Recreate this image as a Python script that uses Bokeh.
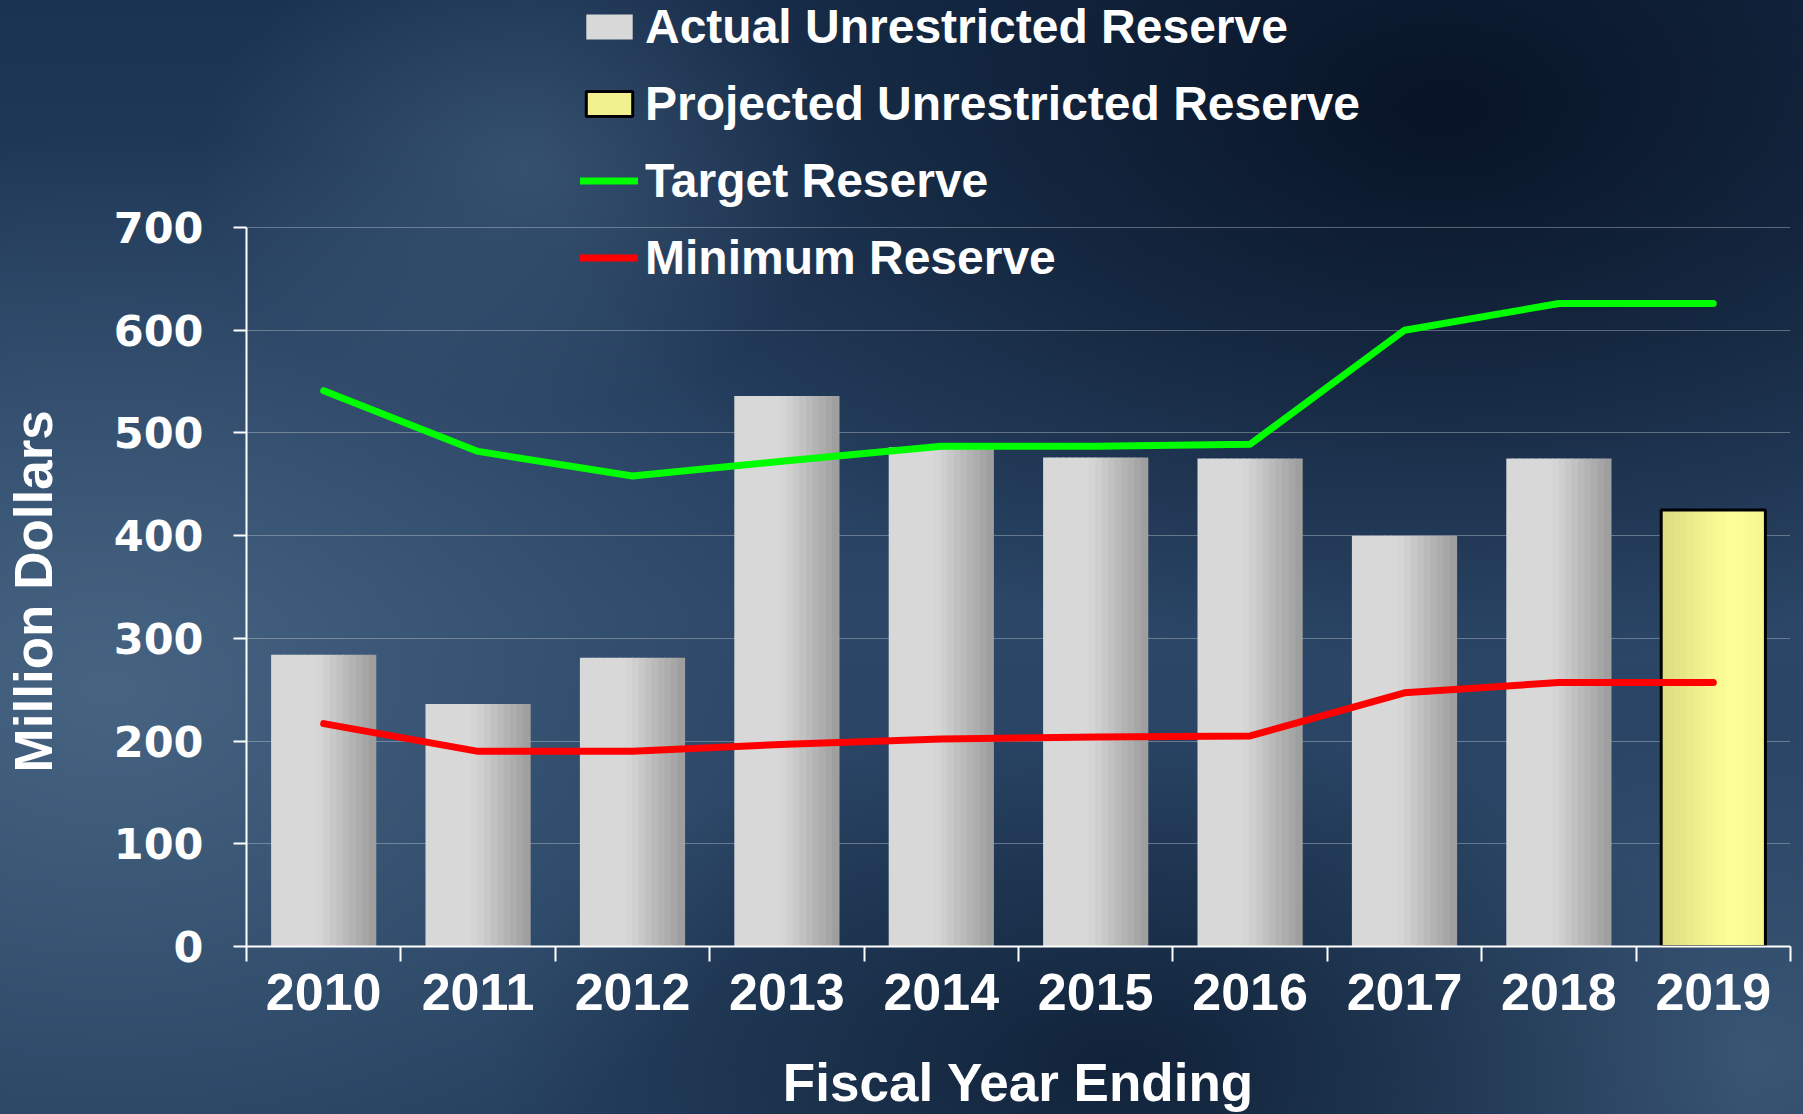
from bokeh.plotting import figure
from bokeh.models import Range1d, FixedTicker, Legend, LegendItem, GlobalInlineStyleSheet
from bokeh.embed import file_html
from bokeh.resources import INLINE

# ---- data ----
years = ["2010", "2011", "2012", "2013", "2014", "2015", "2016", "2017", "2018", "2019"]
actual_years = ["2010", "2011", "2012", "2013", "2014", "2015", "2016", "2017", "2018"]
actual = [284, 236, 281, 536, 486, 476, 475, 400, 475]
projected_years = ["2019"]
projected = [425]
target = [541, 482, 458, 473, 487, 487, 489, 600, 626, 626]
minimum = [217, 190, 190, 197, 202, 204, 205, 247, 257, 257]
y_ticks = [0, 100, 200, 300, 400, 500, 600, 700]
Y_MAX = 700

pos = {y: i + 0.5 for i, y in enumerate(years)}
x_all = [pos[y] for y in years]
x_act = [pos[y] for y in actual_years]
x_proj = [pos[y] for y in projected_years]

# ---- layout constants (pixels) ----
W, H = 1803, 1114
FRAME_LEFT, FRAME_RIGHT = 245, 1790
AXIS_TOP, FRAME_BOTTOM = 227, 946
# frame reaches the top edge so the legend is not clipped; the axis is bounded to 0..700
y_top = Y_MAX * FRAME_BOTTOM / (FRAME_BOTTOM - AXIS_TOP)

BAR_W = 0.675
N = 16
SW = BAR_W / N

p = figure(width=W, height=H, x_range=Range1d(0, len(years)), y_range=Range1d(0, y_top),
           output_backend="svg", toolbar_location=None,
           min_border_left=FRAME_LEFT, min_border_right=W - FRAME_RIGHT,
           min_border_top=0, min_border_bottom=H - FRAME_BOTTOM)
p.border_fill_color = None
p.background_fill_color = None
p.outline_line_color = None
p.stylesheets = [GlobalInlineStyleSheet(css="""
html, body { background-color: #1f3858;
 background-image:
  radial-gradient(ellipse 18% 22% at 29% 15%, rgba(95,125,155,0.35), rgba(95,125,155,0) 100%),
  radial-gradient(ellipse 40% 50% at 6% 62%, rgba(85,115,145,0.65), rgba(85,115,145,0) 100%),
  radial-gradient(ellipse 50% 50% at 80% 10%, rgba(4,14,30,0.85), rgba(4,14,30,0) 100%),
  radial-gradient(ellipse 35% 30% at 62% 95%, rgba(8,22,42,0.7), rgba(8,22,42,0) 100%),
  radial-gradient(ellipse 30% 30% at 97% 95%, rgba(80,110,140,0.45), rgba(80,110,140,0) 100%),
  linear-gradient(180deg, #1b3352 0%, #2b4667 55%, #25405f 100%);
}
""")]

def grey(t):
    if t < 0.45:
        v = 216
    else:
        v = int(216 - (t - 0.45) / 0.55 * 60)
    return "#%02x%02x%02x" % (v, v, v)

def yellow(t):
    if t < 0.65:
        f = t / 0.65
        r = int(0xdc + f * (0xff - 0xdc)); g = r; b = int(0x80 + f * (0x99 - 0x80))
    else:
        f = (t - 0.65) / 0.35
        r = int(0xff - f * 8); g = r; b = int(0x99 - f * 8)
    return "#%02x%02x%02x" % (r, g, b)

legend_actual = None
legend_proj = None
for k in range(N):
    t = (k + 0.5) / N
    off = -BAR_W / 2 + (k + 0.5) * SW
    ra = p.vbar(x=[x + off for x in x_act], top=actual, bottom=0, width=SW * 1.15,
                fill_color=grey(t), line_color=None)
    ry = p.vbar(x=[x + off for x in x_proj], top=projected, bottom=0, width=SW * 1.15,
                fill_color=yellow(t), line_color=None)
    if k == 6:
        legend_actual = ra
        legend_proj = ry

proj_outline = p.vbar(x=x_proj, top=projected, bottom=0, width=BAR_W, fill_alpha=0,
                      line_color="black", line_width=3)

lt = p.line(x_all, target, line_color="#00ff00", line_width=7, line_cap="round", line_join="round")
lm = p.line(x_all, minimum, line_color="#ff0000", line_width=7, line_cap="round", line_join="round")

# ---- axes ----
ya = p.yaxis[0]
ya.ticker = FixedTicker(ticks=y_ticks)
ya.bounds = (0, Y_MAX)
ya.major_tick_out = 13
ya.major_tick_in = 0
ya.minor_tick_out = 0
ya.minor_tick_in = 0
ya.axis_line_color = "white"
ya.axis_line_width = 2
ya.major_tick_line_color = "white"
ya.major_tick_line_width = 2
ya.major_label_text_font = "DejaVu Sans"
ya.major_label_text_font_style = "bold"
ya.major_label_text_font_size = "43px"
ya.major_label_text_color = "white"
ya.major_label_standoff = 30
# the label is centred on the whole (taller) frame; non-breaking spaces after it
# shift the visible words down so they centre on the 0..700 axis
ya.axis_label = "Million Dollars" + "\u00a0" * 16
ya.axis_label_text_font = "Liberation Sans"
ya.axis_label_text_font_style = "bold"
ya.axis_label_text_font_size = "53px"
ya.axis_label_text_color = "white"
ya.axis_label_standoff = 48

xa = p.xaxis[0]
xa.ticker = FixedTicker(ticks=x_all, minor_ticks=[float(i) for i in range(len(years) + 1)])
xa.major_label_overrides = {pos[y]: y for y in years}
xa.major_tick_out = 0
xa.major_tick_in = 0
xa.minor_tick_out = 15
xa.minor_tick_in = 0
xa.minor_tick_line_color = "white"
xa.minor_tick_line_width = 2
xa.axis_line_color = "white"
xa.axis_line_width = 2
xa.major_label_text_font = "Liberation Sans"
xa.major_label_text_font_style = "bold"
xa.major_label_text_font_size = "52px"
xa.major_label_text_color = "white"
xa.major_label_standoff = 12
xa.axis_label = "Fiscal Year Ending"
xa.axis_label_text_font = "Liberation Sans"
xa.axis_label_text_font_style = "bold"
xa.axis_label_text_font_size = "53px"
xa.axis_label_text_color = "white"
xa.axis_label_standoff = 40

p.xgrid.visible = False
p.ygrid.ticker = FixedTicker(ticks=y_ticks)
p.ygrid.bounds = (0, Y_MAX)
p.ygrid.grid_line_color = "#c8ced6"
p.ygrid.grid_line_dash = "1 1"
p.ygrid.grid_line_width = 1
p.ygrid.grid_line_alpha = 0.8

legend = Legend(items=[
    LegendItem(label="Actual Unrestricted Reserve", renderers=[legend_actual]),
    LegendItem(label="Projected Unrestricted Reserve", renderers=[legend_proj, proj_outline]),
    LegendItem(label="Target Reserve", renderers=[lt]),
    LegendItem(label="Minimum Reserve", renderers=[lm]),
], location=(579 - FRAME_LEFT, FRAME_BOTTOM - 285), orientation="vertical",
    glyph_width=58, glyph_height=31, label_standoff=7, label_height=56, spacing=21,
    padding=0, margin=0, background_fill_alpha=0, border_line_alpha=0,
    label_text_font="Liberation Sans", label_text_font_style="bold",
    label_text_font_size="48px", label_text_color="white")
p.add_layout(legend)

open("out.html", "w").write(file_html(p, INLINE))
